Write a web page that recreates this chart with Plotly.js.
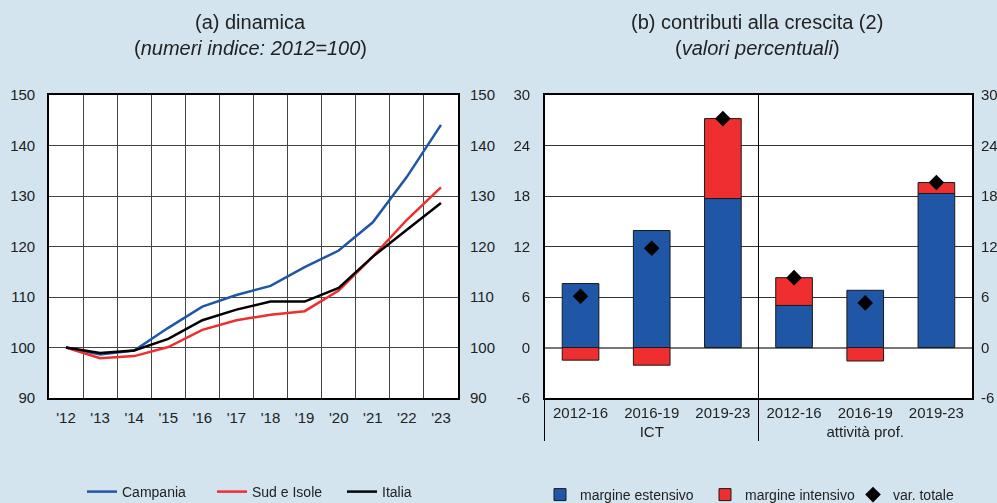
<!DOCTYPE html>
<html>
<head>
<meta charset="utf-8">
<script src="https://cdn.plot.ly/plotly-3.0.1.min.js"></script>
<style>
  body { margin: 0; background: #d3e4ee; }
  #chart { width: 997px; height: 503px; }
</style>
</head>
<body>
<div id="chart"></div>
<script>
// pannello (a): numeri indice 2012=100
var years = ["'12", "'13", "'14", "'15", "'16", "'17", "'18", "'19", "'20", "'21", "'22", "'23"];
var campania = [100, 98.6, 99.4, 103.9, 108.1, 110.4, 112.2, 115.9, 119.2, 124.8, 133.8, 144.1];
var sudIsole = [100, 97.9, 98.3, 100.1, 103.5, 105.4, 106.5, 107.2, 111.3, 118.0, 125.3, 131.7];
var italia = [100, 98.9, 99.4, 101.7, 105.4, 107.5, 109.1, 109.1, 111.8, 118.0, 123.3, 128.6];
var tickA = [90, 100, 110, 120, 130, 140, 150];

// pannello (b): contributi alla crescita
var settori = ['ICT', 'ICT', 'ICT', 'attività prof.', 'attività prof.', 'attività prof.'];
var periodi = ['2012-16', '2016-19', '2019-23', '2012-16', '2016-19', '2019-23'];
var margEstensivo = [7.6, 13.9, 17.7, 5.0, 6.8, 18.3];
var margIntensivo = [-1.5, -2.1, 9.5, 3.3, -1.6, 1.3];
var varTotale = [6.1, 11.8, 27.2, 8.3, 5.3, 19.6];
var tickB = [-6, 0, 6, 12, 18, 24, 30];
var tickBtxt = ['-6', '0', '6', '12', '18', '24', '30'];

var blu = '#1f56a5', rosso = '#ee2e2f', bg = '#d3e4ee';
var txt = '#222222';
var fam = 'Liberation Sans, Arial, sans-serif';

var data = [
  {x: years, y: campania, type: 'scatter', mode: 'lines', name: 'Campania',
   line: {color: blu, width: 2.5}, xaxis: 'x', yaxis: 'y', legend: 'legend', legendwidth: 85},
  {x: years, y: sudIsole, type: 'scatter', mode: 'lines', name: 'Sud e Isole',
   line: {color: rosso, width: 2.5}, xaxis: 'x', yaxis: 'y', legend: 'legend', legendwidth: 85},
  {x: years, y: italia, type: 'scatter', mode: 'lines', name: 'Italia',
   line: {color: '#000000', width: 2.5}, xaxis: 'x', yaxis: 'y', legend: 'legend', legendwidth: 85},
  // copia invisibile per far disegnare l'asse destro
  {x: years, y: italia, type: 'scatter', mode: 'lines', opacity: 0, showlegend: false,
   hoverinfo: 'skip', xaxis: 'x', yaxis: 'y3'},

  {x: [settori, periodi], y: margEstensivo, type: 'bar', name: 'margine estensivo',
   marker: {color: blu, line: {color: '#1a1a1a', width: 1}},
   xaxis: 'x2', yaxis: 'y2', legend: 'legend2', legendwidth: 120},
  {x: [settori, periodi], y: margIntensivo, type: 'bar', name: 'margine intensivo',
   marker: {color: rosso, line: {color: '#1a1a1a', width: 1}},
   xaxis: 'x2', yaxis: 'y2', legend: 'legend2', legendwidth: 103},
  {x: [settori, periodi], y: varTotale, type: 'scatter', mode: 'markers', name: 'var. totale',
   marker: {symbol: 'diamond', color: '#000000', size: 12},
   xaxis: 'x2', yaxis: 'y2', legend: 'legend2'},
  {x: [settori, periodi], y: varTotale, type: 'scatter', mode: 'markers', opacity: 0,
   showlegend: false, hoverinfo: 'skip', xaxis: 'x2', yaxis: 'y4'}
];

var tickFont = {family: fam, size: 15, color: txt};

var layout = {
  width: 997, height: 503,
  margin: {l: 0, r: 0, t: 0, b: 0, autoexpand: false},
  paper_bgcolor: bg,
  plot_bgcolor: '#ffffff',
  font: tickFont,
  barmode: 'relative',
  bargap: 0.485,
  xaxis: {
    domain: [0.0491, 0.4594], anchor: 'y',
    type: 'category', range: [-0.5, 11.5], tickson: 'boundaries', ticklen: 0,
    showgrid: true, gridcolor: '#444444', gridwidth: 1.2,
    showline: true, linecolor: '#000000', linewidth: 1.5, mirror: true,
    ticklabelstandoff: 5, tickfont: tickFont
  },
  yaxis: {
    domain: [0.2087, 0.8111], anchor: 'x',
    range: [90, 150], tickvals: tickA,
    showgrid: true, gridcolor: '#444444', gridwidth: 1.2, zeroline: false,
    showline: true, linecolor: '#000000', linewidth: 1.5, mirror: true,
    ticks: '', ticklabelstandoff: 9, tickfont: tickFont
  },
  yaxis3: {
    overlaying: 'y', anchor: 'x', side: 'right',
    range: [90, 150], tickvals: tickA,
    showgrid: false, zeroline: false, showline: false, ticks: '',
    ticklabelstandoff: 11, tickfont: tickFont
  },
  xaxis2: {
    domain: [0.5466, 0.9749], anchor: 'y2',
    type: 'multicategory', ticks: 'outside', ticklen: 6, tickcolor: 'rgba(0,0,0,0)',
    showgrid: false,
    showline: true, linecolor: '#000000', linewidth: 1.5, mirror: true,
    showdividers: true, dividercolor: '#000000', dividerwidth: 1,
    tickfont: tickFont
  },
  yaxis2: {
    domain: [0.2087, 0.8111], anchor: 'x2',
    range: [-6, 30], tickvals: tickB, ticktext: tickBtxt,
    showgrid: true, gridcolor: '#333333', gridwidth: 1,
    zeroline: true, zerolinecolor: '#777777', zerolinewidth: 1.5,
    showline: true, linecolor: '#000000', linewidth: 1.5, mirror: true,
    ticks: '', ticklabelstandoff: 10, tickfont: tickFont
  },
  yaxis4: {
    overlaying: 'y2', anchor: 'x2', side: 'right',
    range: [-6, 30], tickvals: tickB, ticktext: tickBtxt,
    showgrid: false, zeroline: false, showline: false, ticks: '',
    ticklabelstandoff: 8, tickfont: tickFont
  },
  shapes: [
    {type: 'line', xref: 'x2 domain', yref: 'y2 domain', x0: 0.5, x1: 0.5, y0: 0, y1: 1,
     line: {color: '#000000', width: 1}}
  ],
  annotations: [
    {xref: 'paper', yref: 'paper', x: 0.2508, y: 1 - 22 / 503, xanchor: 'center', yanchor: 'middle',
     text: '(a) dinamica', showarrow: false, font: {size: 20, color: txt}},
    {xref: 'paper', yref: 'paper', x: 0.2508, y: 1 - 48 / 503, xanchor: 'center', yanchor: 'middle',
     text: '(<i>numeri indice: 2012=100</i>)', showarrow: false, font: {size: 20, color: txt}},
    {xref: 'paper', yref: 'paper', x: 0.7593, y: 1 - 22 / 503, xanchor: 'center', yanchor: 'middle',
     text: '(b) contributi alla crescita (2)', showarrow: false, font: {size: 20, color: txt}},
    {xref: 'paper', yref: 'paper', x: 0.7593, y: 1 - 48 / 503, xanchor: 'center', yanchor: 'middle',
     text: '(<i>valori percentuali</i>)', showarrow: false, font: {size: 20, color: txt}}
  ],
  legend: {
    orientation: 'h', x: 82 / 997, y: 1 - 492 / 503, xanchor: 'left', yanchor: 'middle',
    bgcolor: 'rgba(0,0,0,0)', font: {size: 14, color: txt}, itemwidth: 30
  },
  legend2: {
    orientation: 'h', x: 540 / 997, y: 1 - 495 / 503, xanchor: 'left', yanchor: 'middle',
    bgcolor: 'rgba(0,0,0,0)', font: {size: 14, color: txt}, itemwidth: 30
  },
  showlegend: true
};

Plotly.newPlot('chart', data, layout, {displayModeBar: false});
</script>
</body>
</html>
